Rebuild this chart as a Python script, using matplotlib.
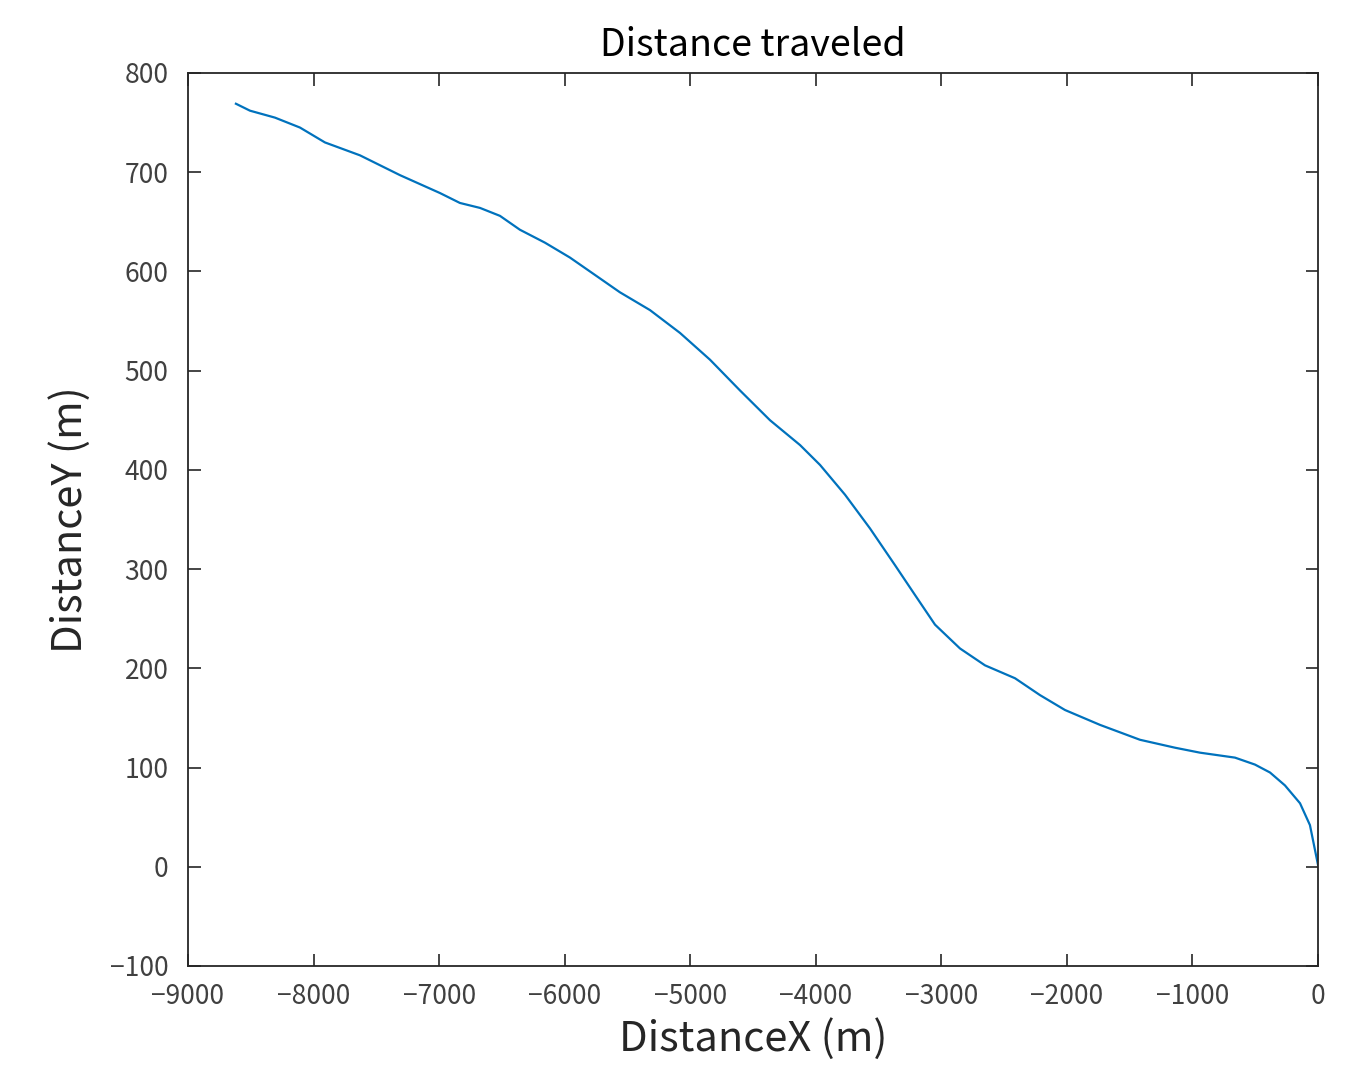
import numpy as np
import matplotlib
matplotlib.use("Agg")
import matplotlib.pyplot as plt

plt.rcParams['font.family'] = ['Noto Sans CJK JP', 'DejaVu Sans']

# trajectory (m)
dist_x = [-8618, -8506, -8307, -8108, -7909, -7630, -7311, -6993, -6834, -6674,
          -6515, -6356, -6157, -5958, -5719, -5560, -5320, -5081, -4842, -4603,
          -4364, -4125, -3966, -3767, -3568, -3369, -3210, -3050, -2851, -2652,
          -2413, -2214, -2015, -1736, -1418, -1139, -940, -661, -502, -382,
          -263, -143, -64, 0]
dist_y = [769, 762, 755, 745, 730, 717, 697, 679, 669, 664,
          656, 642, 629, 614, 593, 579, 561, 538, 511, 480,
          450, 425, 405, 375, 341, 304, 274, 244, 220, 203,
          190, 173, 158, 143, 128, 120, 115, 110, 103, 95,
          82, 64, 42, 2]

x_ticks = np.arange(-9000, 1, 1000)
y_ticks = np.arange(-100, 801, 100)

fig = plt.figure(figsize=(13.6, 10.7), dpi=100)
ax = fig.add_axes([0.1382, 0.0972, 0.8309, 0.8346])

ax.plot(dist_x, dist_y, color='#0072BD', linewidth=1.6)

ax.set_xlim(-9000, 0)
ax.set_ylim(-100, 800)
ax.set_xticks(x_ticks)
ax.set_yticks(y_ticks)
ax.set_xticklabels([str(v).replace('-', '\u2212') for v in x_ticks])
ax.set_yticklabels([str(v).replace('-', '\u2212') for v in y_ticks])

ax.tick_params(direction='in', length=9, width=1.2, top=True, right=True,
               labelsize=19, colors='#262626', labelcolor='#404040', pad=12)
ax.tick_params(axis='y', pad=14)
for s in ax.spines.values():
    s.set_color('#262626')
    s.set_linewidth(1.3)

ax.set_title('Distance traveled', fontsize=27, color='black', pad=12)
ax.set_xlabel('DistanceX (m)', fontsize=30, color='#262626', labelpad=6)
ax.set_ylabel('DistanceY (m)', fontsize=30, color='#262626', labelpad=14)

fig.savefig('out.png', dpi=100, facecolor='white')
